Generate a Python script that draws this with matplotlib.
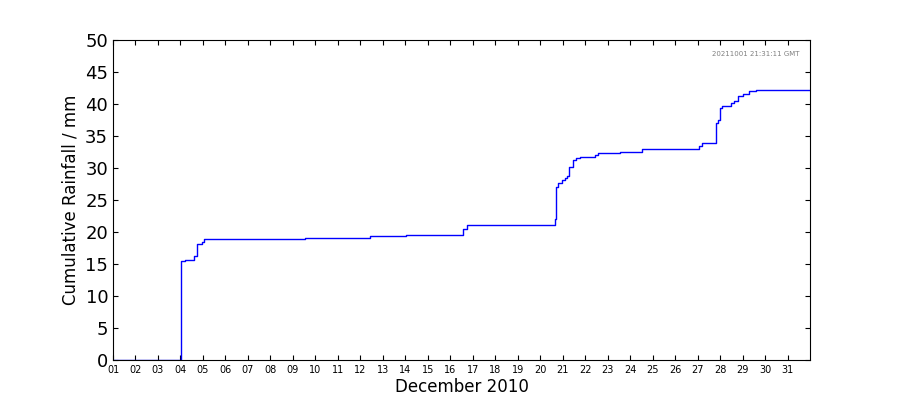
import matplotlib
matplotlib.use("Agg")
import matplotlib.pyplot as plt
import numpy as np

# day-of-month (fractional) and cumulative rainfall (mm)
days = [1.0, 3.98, 4.02, 4.2, 4.4, 4.6, 4.75, 4.95, 5.05, 9.5, 9.55, 12.4, 12.45, 14.0, 14.05,
        16.45, 16.55, 16.7, 16.75, 20.6, 20.65, 20.72, 20.8, 20.95, 21.1, 21.2, 21.3, 21.45, 21.6,
        21.75, 22.3, 22.45, 22.55, 23.5, 23.55, 24.5, 24.55, 26.95, 27.05, 27.2, 27.75, 27.8,
        27.9, 28.0, 28.1, 28.3, 28.5, 28.6, 28.8, 29.0, 29.3, 29.6, 32.0]
rain = [0.0, 0.0, 15.4, 15.6, 15.6, 16.2, 18.2, 18.5, 18.9, 18.9, 19.1, 19.1, 19.3, 19.3, 19.5,
        19.5, 20.5, 20.5, 21.1, 21.1, 22.0, 27.0, 27.6, 28.2, 28.5, 28.7, 30.2, 31.3, 31.6,
        31.7, 31.7, 32.0, 32.3, 32.3, 32.5, 32.5, 32.9, 32.9, 33.5, 33.9, 33.9, 37.0,
        37.5, 39.3, 39.7, 39.7, 40.2, 40.5, 41.2, 41.5, 42.0, 42.2, 42.2]
tick_labels = ["%02d" % d for d in range(1, 32)]

fig = plt.figure(figsize=(9, 4), dpi=100)
ax = fig.add_axes([113/900, 40/400, 697/900, 320/400])
ax.step(days, rain, where="post", color="blue", lw=1)
ax.set_xlim(1, 32)
ax.set_ylim(0, 50)
ax.set_yticks(range(0, 51, 5))
ax.set_xticks(range(1, 32))
ax.set_xticklabels(tick_labels, fontsize=7)
ax.tick_params(axis="y", labelsize=13)
ax.tick_params(direction="in", top=True, right=True)
ax.set_xlabel("December 2010", fontsize=12, labelpad=2)
ax.set_ylabel("Cumulative Rainfall / mm", fontsize=12)
ax.text(0.985, 0.955, "20211001 21:31:11 GMT", transform=ax.transAxes,
        ha="right", va="center", fontsize=5, color="gray")
fig.savefig("out.png", dpi=100)
